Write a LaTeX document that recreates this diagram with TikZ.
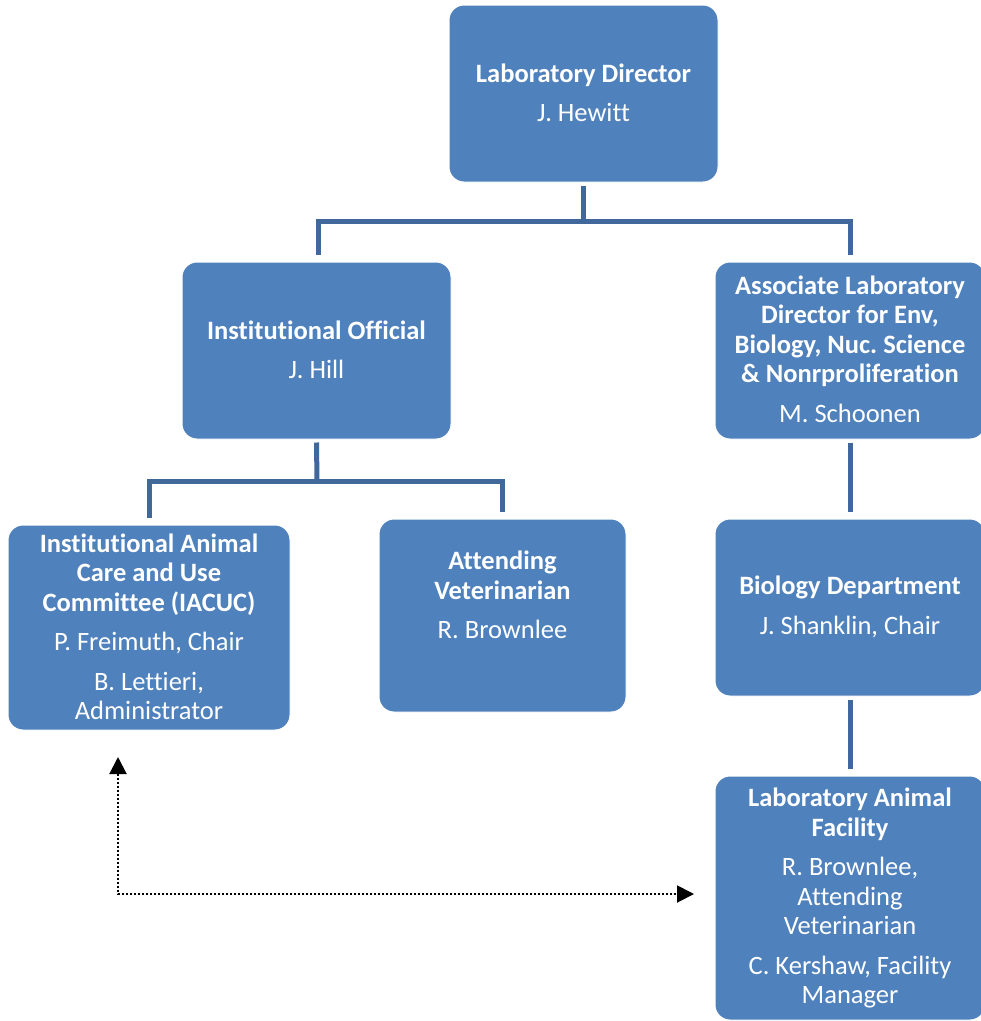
\documentclass[tikz,border=0pt]{standalone}
\usepackage{fontspec}
\setmainfont{Carlito}[Ligatures=NoCommon]
\frenchspacing
\usetikzlibrary{calc,arrows.meta}
\definecolor{boxblue}{RGB}{79,129,189}
\definecolor{linkblue}{RGB}{65,104,154}
\tikzset{
  orgbox/.style={draw=white, line width=1pt, fill=boxblue, rounded corners=15pt, inner sep=0pt},
  lbl/.style={text=white, align=center, font=\fontsize{26.5}{29.5}\selectfont, inner sep=0pt},
  conn/.style={draw=linkblue, line width=5pt},
  dotconn/.style={draw=black, line width=2pt, dash pattern=on 2pt off 2pt, {Triangle[length=17pt,width=17pt]}-{Triangle[length=17pt,width=17pt]}}
}
\newcommand{\psep}{\\[10pt]}
\begin{document}
\begin{tikzpicture}[x=1pt,y=-1pt]
\clip (0,0) rectangle (981,1021);
\fill[white] (0,0) rectangle (981,1021);
% boxes
\node[orgbox, minimum width=269pt, minimum height=177pt] (dir) at (583.5,93.5) {};
\node[orgbox, minimum width=269pt, minimum height=177pt] (io) at (316.5,350.5) {};
\node[orgbox, minimum width=270pt, minimum height=177pt] (ald) at (850,350.5) {};
\node[orgbox, minimum width=282pt, minimum height=205pt] (iacuc) at (149,627.5) {};
\node[orgbox, minimum width=247pt, minimum height=193pt] (av) at (502.5,615.5) {};
\node[orgbox, minimum width=270pt, minimum height=177pt] (bio) at (850,607.5) {};
\node[orgbox, minimum width=270pt, minimum height=244pt] (laf) at (850,898) {};
% labels
\node[lbl] (tdir) at (583.5,93) {\textbf{Laboratory Director}\psep J. Hewitt};
\node[lbl] (tio) at (316.5,350) {\textbf{Institutional Official}\psep J. Hill};
\node[lbl] (tald) at (850,349) {\textbf{Associate Laboratory}\\\textbf{Director for Env,}\\\textbf{Biology, Nuc. Science}\\\textbf{\& Nonrproliferation}\psep M. Schoonen};
\node[lbl] (tiacuc) at (149,627) {\textbf{Institutional Animal}\\\textbf{Care and Use}\\\textbf{Committee (IACUC)}\psep P. Freimuth, Chair\psep B. Lettieri,\\Administrator};
\node[lbl] (tav) at (502.5,595) {\textbf{Attending}\\\textbf{Veterinarian}\psep R. Brownlee};
\node[lbl] (tbio) at (850,607) {\textbf{Biology Department}\psep J. Shanklin, Chair};
\node[lbl] (tlaf) at (850,898) {\textbf{Laboratory Animal}\\\textbf{Facility}\psep R. Brownlee,\\Attending\\Veterinarian\psep C. Kershaw, Facility\\Manager};
% connectors
\coordinate (jd) at (583.5,221);
\draw[conn] ($(dir.south)+(0,3)$) -- (jd);
\draw[conn] ($(io.north)+(1.5,-7)$) |- (jd) -| ($(ald.north)+(0,-7)$);
\coordinate (ji) at (317,481);
\draw[conn] ($(io.south)+(0,3)$) -- (ji);
\draw[conn] ($(iacuc.north)+(0,-7)$) |- (ji) -| ($(av.north)+(0,-7)$);
\draw[conn] ($(ald.south)+(0,3)$) -- ($(bio.north)+(0,-7)$);
\draw[conn] ($(bio.south)+(0,3)$) -- ($(laf.north)+(0,-7)$);
% dotted link
\coordinate (dtop) at (118,757);
\coordinate (dright) at (694,894);
\draw[dotconn] (dtop) |- (dright);
\end{tikzpicture}
\end{document}
